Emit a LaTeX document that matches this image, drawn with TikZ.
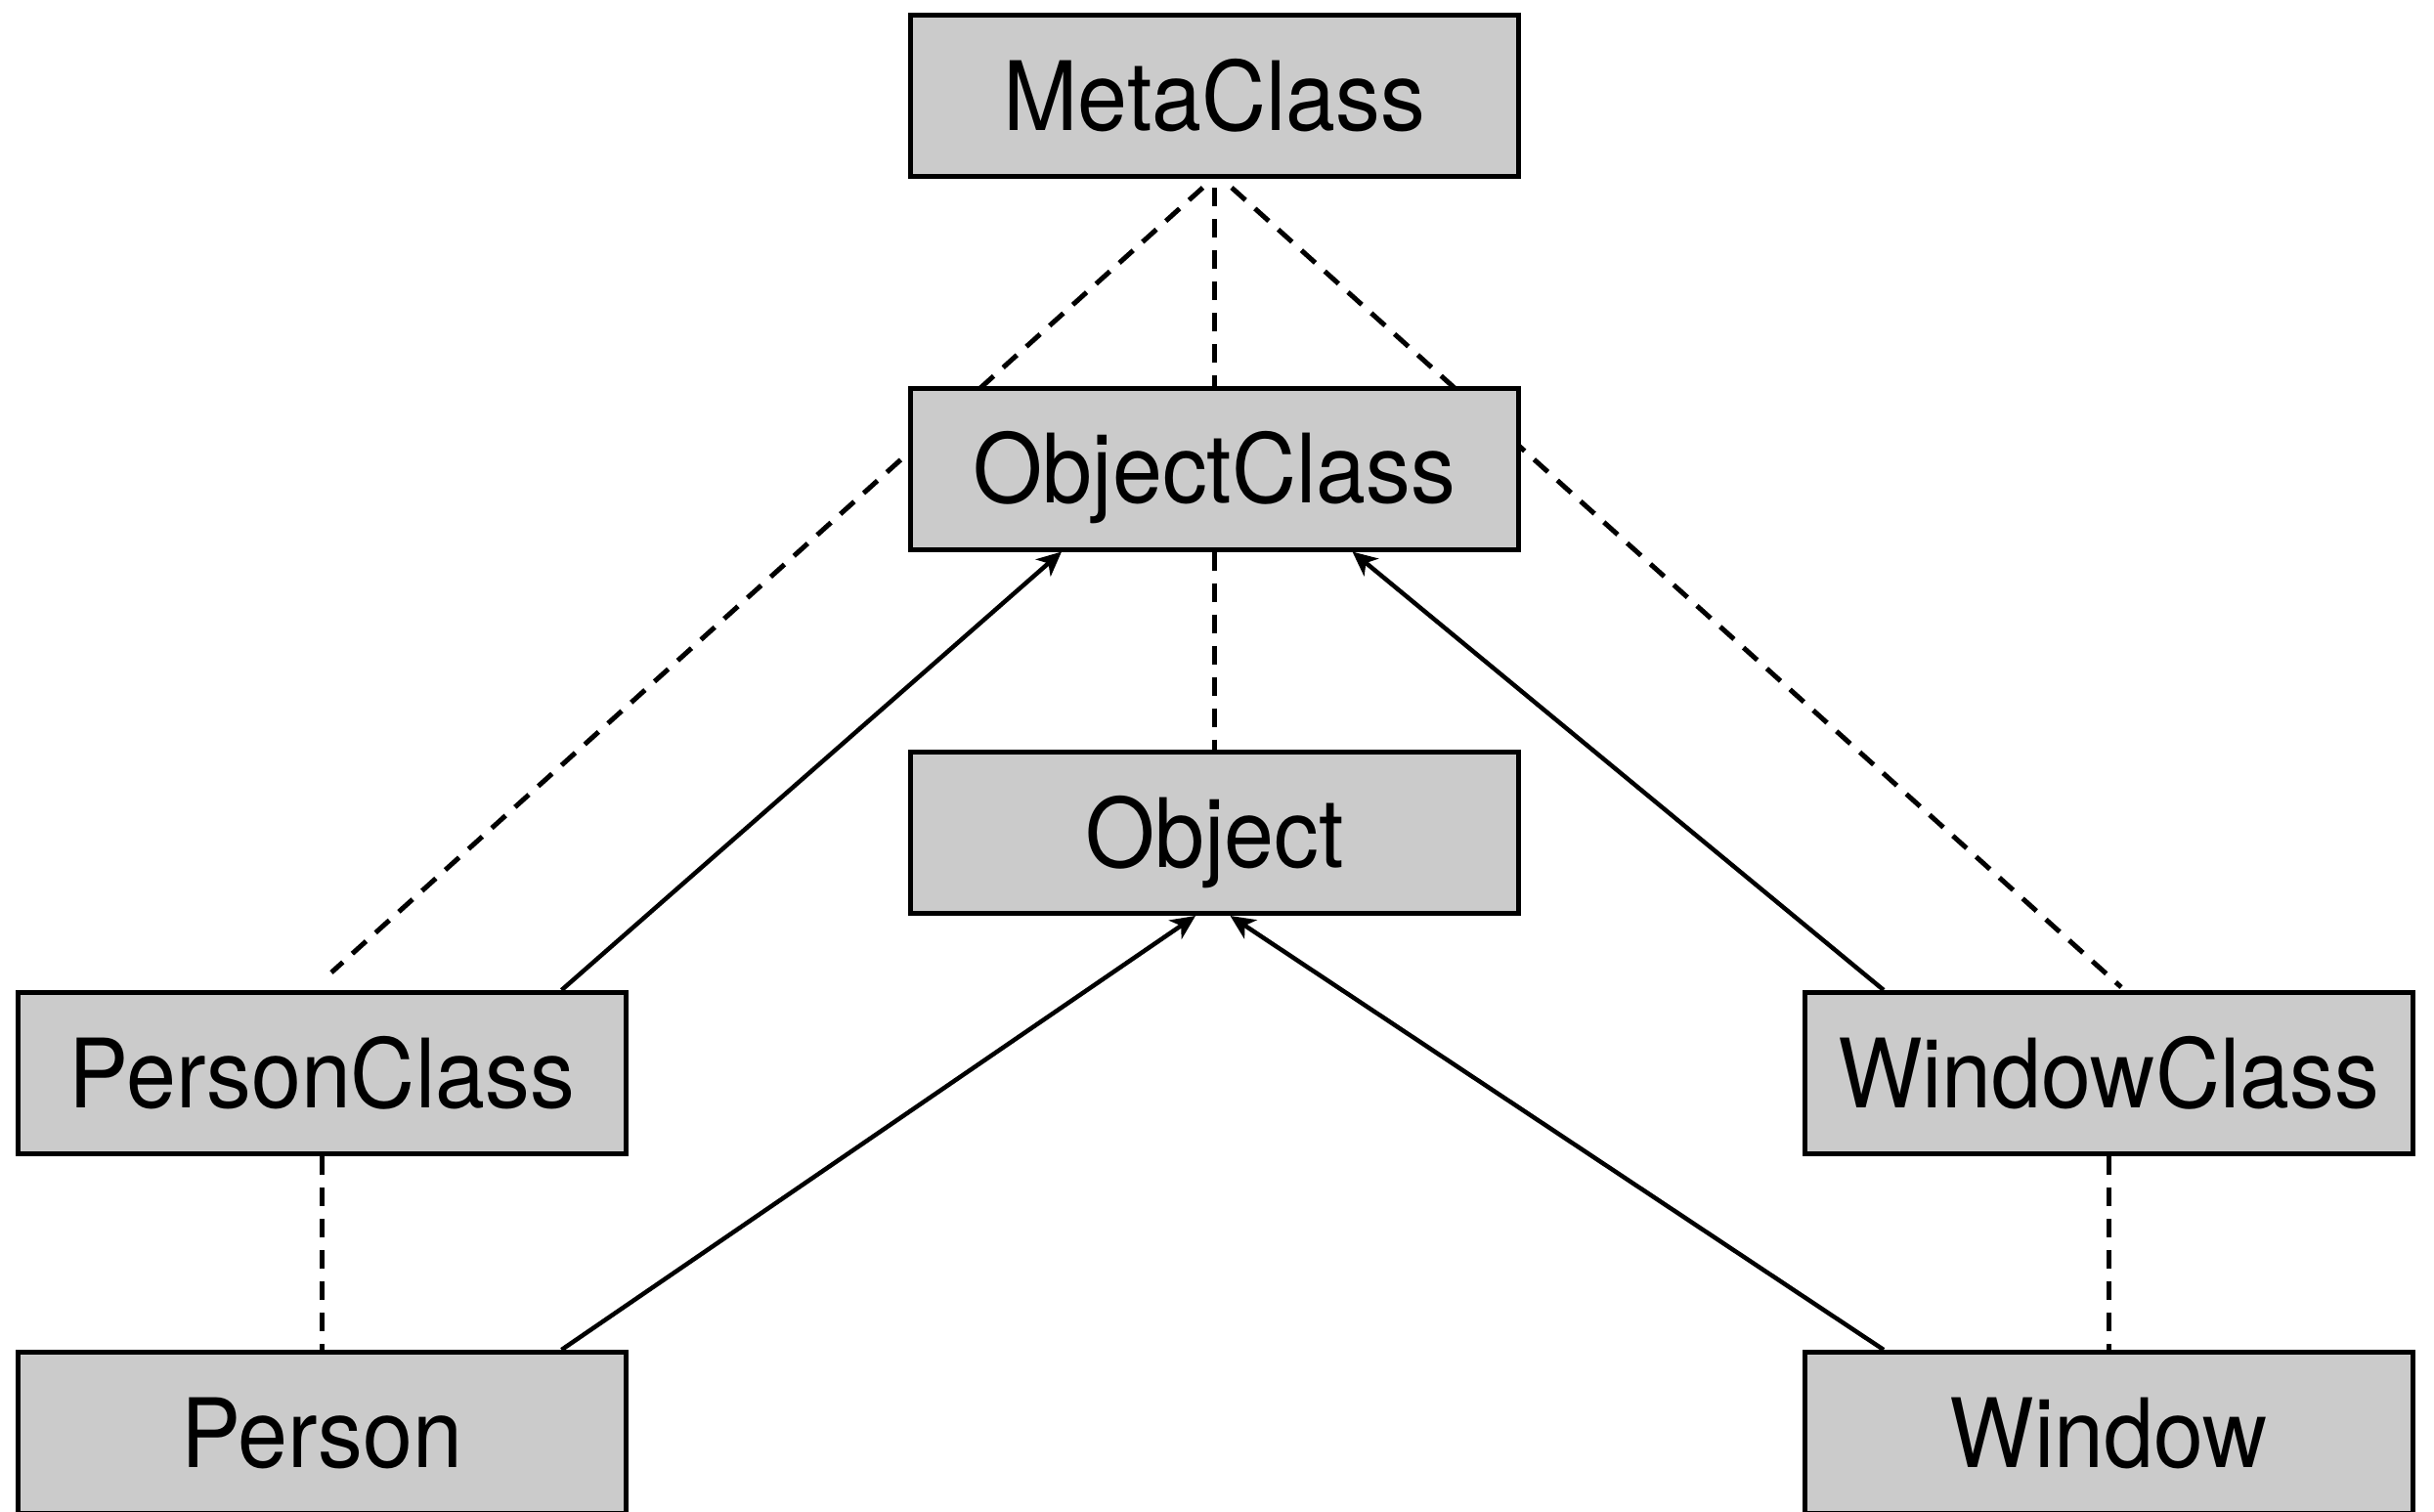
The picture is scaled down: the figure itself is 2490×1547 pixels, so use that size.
\documentclass[tikz,border=0pt]{standalone}
\usepackage{fontspec}
\setmainfont{TeX Gyre Heros}[FakeStretch=0.935]
\usetikzlibrary{calc,arrows.meta,backgrounds}
\definecolor{boxgray}{HTML}{CBCBCB}
\tikzset{
  classbox/.style={draw=black, line width=5pt, fill=boxgray,
    minimum width=622pt, minimum height=165pt, inner sep=0pt,
    text height=70pt, text depth=0pt,
    font=\fontsize{98}{110}\selectfont},
  instof/.style={line width=5pt, dash pattern=on 19pt off 13pt},
  subof/.style={line width=4.5pt, -{Stealth[length=25pt,width=23pt,inset=7pt]}}
}
\begin{document}
\begin{tikzpicture}[x=1pt,y=-1pt]
\useasboundingbox (0,0) rectangle (2490,1547);
\node[classbox] (meta)   at (1242.5,98)   {MetaClass};
\node[classbox] (oc)     at (1242.5,479.5){ObjectClass};
\node[classbox] (obj)    at (1242.5,852)  {Object};
\node[classbox] (pc)     at (329.5,1098)  {PersonClass};
\node[classbox] (wc)     at (2157,1098)   {WindowClass};
\node[classbox] (person) at (329.5,1466)  {Person};
\node[classbox] (window) at (2157,1466)   {Window};
\begin{pgfonlayer}{background}
\draw[instof] ($(meta.south)+(0,9)$) -- (oc.north);
\draw[instof] ($(meta.south)+(-12,9)$) -- ($(pc.north)+(9.5,-18)$);
\draw[instof] ($(meta.south)+(17.5,9)$) -- ($(wc.north)+(13,-3)$);
\draw[instof] (oc.south) -- (obj.north);
\draw[instof] (pc.south) -- (person.north);
\draw[instof] (wc.south) -- (window.north);
\draw[subof] ($(pc.north)+(245,0)$) -- ($(oc.south)+(-156.5,0)$);
\draw[subof] ($(wc.north)+(-230,0)$) -- ($(oc.south)+(141,0)$);
\draw[subof] ($(person.north)+(245,0)$) -- ($(obj.south)+(-19.5,0)$);
\draw[subof] ($(window.north)+(-230,0)$) -- ($(obj.south)+(16,0)$);
\end{pgfonlayer}
\end{tikzpicture}
\end{document}
